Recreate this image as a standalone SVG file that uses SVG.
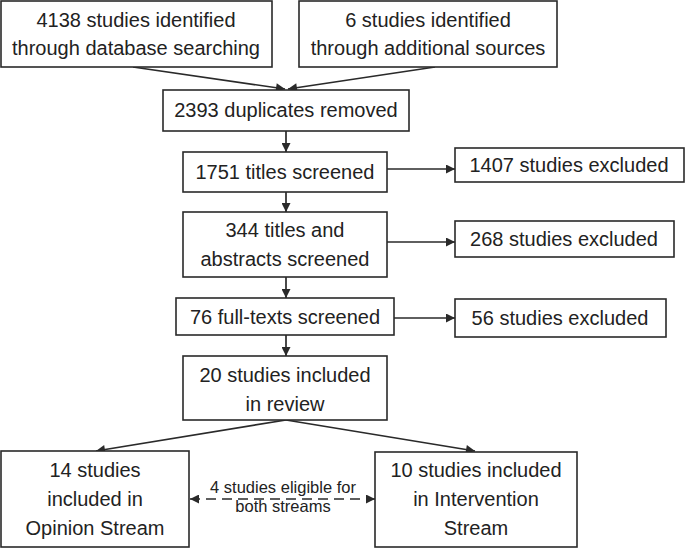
<svg xmlns="http://www.w3.org/2000/svg" width="685" height="548" viewBox="0 0 685 548">
  <style>
    .box { fill: #ffffff; stroke: #2a2a2a; stroke-width: 1.6; }
    .t { font-family: "Liberation Sans", Arial, sans-serif; font-size: 20px; fill: #222222; text-anchor: middle; }
    .s { font-family: "Liberation Sans", Arial, sans-serif; font-size: 16.5px; fill: #222222; text-anchor: middle; }
    .c { fill: none; stroke: #2a2a2a; stroke-width: 1.7; }
    .d { stroke-dasharray: 10 6; }
  </style>
  <defs>
    <marker id="ah" viewBox="0 0 10 10" refX="10" refY="5" markerWidth="11" markerHeight="9" markerUnits="userSpaceOnUse" orient="auto-start-reverse">
      <path d="M0,0 L10,5 L0,10 z" fill="#2a2a2a"/>
    </marker>
  </defs>
  <rect width="685" height="548" fill="#ffffff"/>

  <g id="connectors">
    <line class="c" x1="133" y1="67" x2="285" y2="89" marker-end="url(#ah)"/>
    <line class="c" x1="435" y1="67" x2="288" y2="89" marker-end="url(#ah)"/>
    <line class="c" x1="286" y1="131" x2="286" y2="152" marker-end="url(#ah)"/>
    <line class="c" x1="387" y1="169" x2="455" y2="169" marker-end="url(#ah)"/>
    <line class="c" x1="286" y1="192" x2="286" y2="212" marker-end="url(#ah)"/>
    <line class="c" x1="387" y1="242" x2="455" y2="242" marker-end="url(#ah)"/>
    <line class="c" x1="286" y1="277" x2="286" y2="298" marker-end="url(#ah)"/>
    <line class="c" x1="394" y1="318" x2="455" y2="318" marker-end="url(#ah)"/>
    <line class="c" x1="286" y1="335" x2="286" y2="356" marker-end="url(#ah)"/>
    <line class="c" x1="286" y1="420" x2="96" y2="451" marker-end="url(#ah)"/>
    <line class="c" x1="286" y1="420" x2="475" y2="451" marker-end="url(#ah)"/>
    <line class="c d" x1="190" y1="499" x2="375" y2="499" marker-start="url(#ah)" marker-end="url(#ah)"/>
    <text class="s" x="283" y="493">4 studies eligible for</text>
    <text class="s" x="283" y="512">both streams</text>
  </g>

  <g id="db">
    <rect class="box" x="1" y="1" width="271" height="66"/>
    <text class="t" x="136" y="27">4138 studies identified</text>
    <text class="t" x="136" y="55">through database searching</text>
  </g>
  <g id="additional">
    <rect class="box" x="299" y="1" width="258" height="66"/>
    <text class="t" x="428" y="27">6 studies identified</text>
    <text class="t" x="428" y="55">through additional sources</text>
  </g>
  <g id="duplicates">
    <rect class="box" x="163" y="90" width="246" height="41"/>
    <text class="t" x="286" y="117">2393 duplicates removed</text>
  </g>
  <g id="titles">
    <rect class="box" x="183" y="152" width="204" height="40"/>
    <text class="t" x="285" y="179">1751 titles screened</text>
  </g>
  <g id="excl1">
    <rect class="box" x="455" y="148" width="229" height="34"/>
    <text class="t" x="569" y="172">1407 studies excluded</text>
  </g>
  <g id="abstracts">
    <rect class="box" x="183" y="212" width="204" height="65"/>
    <text class="t" x="285" y="237">344 titles and</text>
    <text class="t" x="285" y="266">abstracts screened</text>
  </g>
  <g id="excl2">
    <rect class="box" x="455" y="221" width="219" height="36"/>
    <text class="t" x="564" y="246">268 studies excluded</text>
  </g>
  <g id="fulltexts">
    <rect class="box" x="176" y="298" width="218" height="37"/>
    <text class="t" x="285" y="324">76 full-texts screened</text>
  </g>
  <g id="excl3">
    <rect class="box" x="455" y="299" width="211" height="38"/>
    <text class="t" x="560" y="325">56 studies excluded</text>
  </g>
  <g id="included">
    <rect class="box" x="183" y="356" width="204" height="64"/>
    <text class="t" x="285" y="382">20 studies included</text>
    <text class="t" x="285" y="411">in review</text>
  </g>
  <g id="opinion">
    <rect class="box" x="1" y="451" width="188" height="96"/>
    <text class="t" x="95" y="477">14 studies</text>
    <text class="t" x="95" y="506">included in</text>
    <text class="t" x="95" y="535">Opinion Stream</text>
  </g>
  <g id="intervention">
    <rect class="box" x="375" y="452" width="202" height="95"/>
    <text class="t" x="476" y="477">10 studies included</text>
    <text class="t" x="476" y="506">in Intervention</text>
    <text class="t" x="476" y="535">Stream</text>
  </g>
</svg>
